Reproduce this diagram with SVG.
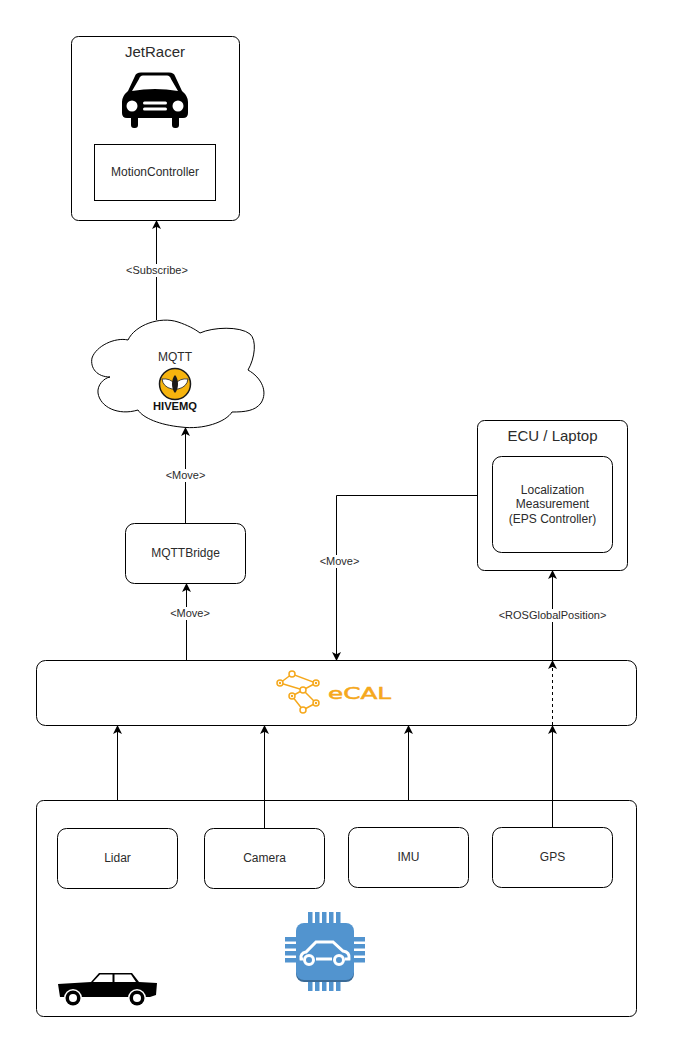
<svg xmlns="http://www.w3.org/2000/svg" width="673" height="1058" viewBox="0 0 673 1058">
<style>
text{font-family:"Liberation Sans",Arial,sans-serif;fill:#2b2b2b;text-anchor:middle}
.box{fill:#fff;stroke:#000;stroke-width:1}
.t12{font-size:12px}.t15{font-size:15px}.t11{font-size:11px}
.line{fill:none;stroke:#000;stroke-width:1}
.lab{fill:#fff;stroke:none}
.or{fill:none;stroke:#f5a81c;stroke-width:1.500}
.pin{fill:#5294cf}
.ring{fill:none;stroke:#fff;stroke-width:3}
</style>
<defs>
<marker id="arrow" markerUnits="userSpaceOnUse" markerWidth="10" markerHeight="11" refX="8" refY="5" orient="auto"><path d="M0 0.5L9 5L0 9.500L2.200 5Z" fill="#000"/></marker>
</defs>
<rect width="673" height="1058" fill="#fff"/>
<g id="vehicle"><rect class="box" x="36.500" y="800.500" width="600" height="216" rx="7"/>
<path d="M58 984L91 982L99 973H132L139 982L157 983L156 995L150 997H60Z" fill="#000"/>
<path d="M93 982L100 974.500H112.500V982ZM114.500 974.500H131L136 982H114.500Z" fill="#fff"/>
<circle cx="73" cy="998" r="9" fill="#fff"/><circle cx="73" cy="998" r="7.500" fill="#000"/><circle cx="73" cy="998" r="4" fill="#fff"/>
<circle cx="137" cy="998" r="9" fill="#fff"/><circle cx="137" cy="998" r="7.500" fill="#000"/><circle cx="137" cy="998" r="4" fill="#fff"/>
</g>
<g id="chip">
<path class="pin" d="M308 912h4.500v11h-4.500zM315 912h4.500v11h-4.500zM322 912h4.500v11h-4.500zM329 912h4.500v11h-4.500zM336 912h4.500v11h-4.500zM308 981h4.500v10h-4.500zM315 981h4.500v10h-4.500zM322 981h4.500v10h-4.500zM329 981h4.500v10h-4.500zM336 981h4.500v10h-4.500zM285 937h11v4.500h-11zM285 944h11v4.500h-11zM285 951h11v4.500h-11zM285 958h11v4.500h-11zM353 937h12v4.500h-12zM353 944h12v4.500h-12zM353 951h12v4.500h-12zM353 958h12v4.500h-12z"/>
<rect x="296" y="930" width="58" height="52" rx="8" fill="#3a6a96"/>
<rect class="pin" x="296" y="923" width="58" height="57" rx="8"/>
<path class="ring" d="M303 959H301Q300 953 306 952L316 942H333L343 951Q350 952 349 959H345M316 959H332"/>
<circle class="ring" cx="309" cy="960" r="4.500"/>
<circle class="ring" cx="339" cy="960" r="4.500"/>
</g>
<g id="lidar"><rect class="box" x="57.500" y="828.500" width="120" height="60" rx="9"/><text class="t12" x="117.500" y="862">Lidar</text></g>
<g id="camera"><rect class="box" x="204.500" y="828.500" width="120" height="60" rx="9"/><text class="t12" x="264.500" y="862">Camera</text></g>
<g id="imu"><rect class="box" x="348.500" y="827.500" width="120" height="60" rx="9"/><text class="t12" x="408.500" y="861">IMU</text></g>
<g id="gps"><rect class="box" x="492.500" y="827.500" width="120" height="60" rx="9"/><text class="t12" x="552.500" y="861">GPS</text></g>
<g id="ecal"><rect class="box" x="36.500" y="660.500" width="600" height="65" rx="9"/>
<path class="or" d="M280 683L292 674L316 683L303 690L280 683M303 690L292 696L303 710L316 703L303 690"/>
<g fill="#fff" stroke="#f5a81c" stroke-width="1.500"><circle cx="292" cy="674" r="3"/><circle cx="303" cy="690" r="3"/><circle cx="303" cy="710" r="3"/><circle cx="280" cy="683" r="3"/><circle cx="316" cy="683" r="3"/><circle cx="292" cy="696" r="3"/><circle cx="316" cy="703" r="3"/></g>
<g fill="#f5a81c"><circle cx="280" cy="683" r="1.200"/><circle cx="316" cy="683" r="1.200"/><circle cx="292" cy="696" r="1.200"/><circle cx="316" cy="703" r="1.200"/></g>
<text x="359.500" y="699" font-size="15" style="fill:#f5a81c;stroke:#f5a81c;stroke-width:.5;font-family:'DejaVu Sans',sans-serif" textLength="63" lengthAdjust="spacingAndGlyphs">eCAL</text></g>
<g id="mqttbridge"><rect class="box" x="125.500" y="523.500" width="120" height="60" rx="9"/><text class="t12" x="185.500" y="557">MQTTBridge</text></g>
<g id="ecu"><rect class="box" x="477.500" y="420.500" width="150" height="150" rx="7"/><text class="t15" x="552.500" y="441">ECU / Laptop</text>
<rect class="box" x="492.500" y="456.500" width="120" height="96" rx="9"/><text class="t12"><tspan x="552.500" y="494">Localization</tspan><tspan x="552.500" y="508">Measurement</tspan><tspan x="552.500" y="523">(EPS Controller)</tspan></text></g>
<g id="mqtt"><path fill="#fff" stroke="#000" d="M128 340C135 325 160 316 178 322C187 325 195 329 200 333C213 327 240 326 250 334C257 340 255 358 248 370C262 378 268 392 261 403C255 411 245 412 232 412C226 422 203 430 181 427C160 425 143 418 138 410C118 416 100 407 98 393C97 385 104 378 110 377C97 377 90 368 92 358C96 346 115 337 128 340Z"/>
<text class="t12" x="175" y="361">MQTT</text>
<circle cx="175" cy="384" r="15.500" fill="#f6b40e" stroke="#1a1a1a" stroke-width="1.500"/>
<path d="M162 379Q170 378 175 384Q180 378 188 379Q187 387 178 389H172Q163 387 162 379Z" fill="#fff" stroke="#1a1a1a" stroke-width=".8"/>
<path d="M175 375C171 379 171 389 175 393C179 389 179 379 175 375Z" fill="#1a1a1a"/>
<text x="175" y="410" font-size="11" font-weight="bold" style="fill:#111" textLength="44" lengthAdjust="spacingAndGlyphs">HIVEMQ</text></g>
<g id="jetracer"><rect class="box" x="71.500" y="36.500" width="168" height="184" rx="7"/><text class="t15" x="155" y="57">JetRacer</text>
<path d="M135 76Q136 72.500 141 72.500H169Q174 72.500 175 76L182 91Q188 96 188 102V113Q188 118 183 118H179V125Q179 128 176 128H175Q172 128 172 125V118H138V125Q138 128 135 128H134Q131 128 131 125V118H127Q122 118 122 113V102Q122 96 128 91Z" fill="#000"/>
<path d="M139 79Q140 75.500 143 75.500H167Q170 75.500 171 79L178 91Q155 87 132 91Z" fill="#fff"/>
<circle cx="132" cy="106" r="5.500" fill="#fff"/><circle cx="178" cy="106" r="5.500" fill="#fff"/>
<rect x="143" y="101.500" width="24" height="3" rx="1.500" fill="#fff"/><rect x="143" y="107.500" width="24" height="3" rx="1.500" fill="#fff"/>
<rect class="box" x="94.500" y="144.500" width="121" height="56"/><text class="t12" x="155" y="176">MotionController</text></g>
<g id="connectors">
<path class="line" d="M117.500 800V726" marker-end="url(#arrow)"/>
<path class="line" d="M264.500 828V726" marker-end="url(#arrow)"/>
<path class="line" d="M408.500 800V726" marker-end="url(#arrow)"/>
<path class="line" d="M552.500 827V726" marker-end="url(#arrow)"/>
<path class="line" d="M552.500 725V661" stroke-dasharray="3 3" marker-end="url(#arrow)"/>
<path class="line" d="M552.500 660V571" marker-end="url(#arrow)"/>
<path class="line" d="M186.500 660V584" marker-end="url(#arrow)"/>
<path class="line" d="M185.500 523V428" marker-end="url(#arrow)"/>
<path class="line" d="M156.500 320V221" marker-end="url(#arrow)"/>
<path class="line" d="M477 495.500H336.500V660" marker-end="url(#arrow)"/>
<rect class="lab" x="498" y="609" width="109" height="13"/><text class="t11" x="552.500" y="619">&lt;ROSGlobalPosition&gt;</text>
<rect class="lab" x="169" y="607" width="42" height="13"/><text class="t11" x="190" y="617">&lt;Move&gt;</text>
<rect class="lab" x="165" y="469" width="42" height="13"/><text class="t11" x="185.500" y="479">&lt;Move&gt;</text>
<rect class="lab" x="319" y="555" width="42" height="13"/><text class="t11" x="339.500" y="565">&lt;Move&gt;</text>
<rect class="lab" x="126" y="264" width="62" height="13"/><text class="t11" x="157" y="274">&lt;Subscribe&gt;</text>
</g>
</svg>
